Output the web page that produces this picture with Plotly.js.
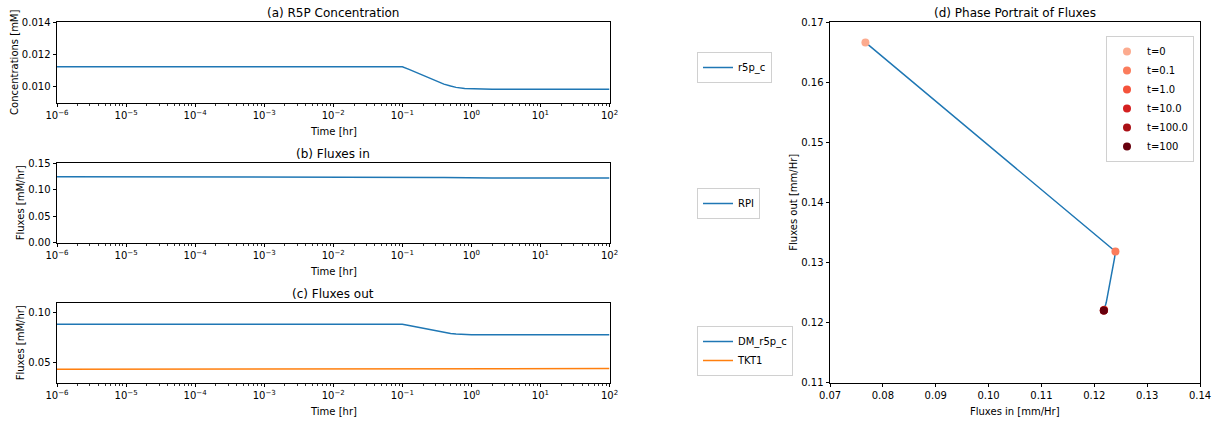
<!DOCTYPE html>
<html>
<head>
<meta charset="utf-8">
<script src="https://cdn.plot.ly/plotly-3.0.1.min.js"></script>
<style>html,body{margin:0;padding:0;background:#fff;}#chart{width:1216px;height:424px;}</style>
</head>
<body>
<div id="chart"></div>
<script>
// ---- data ----
const t = [0, 1e-6, 1e-5, 1e-4, 1e-3, 1e-2, 0.1, 0.125, 0.15, 0.2, 0.25, 0.3, 0.4, 0.5, 0.6, 0.8, 1, 2, 10, 100];
const r5p_c = [0.01122, 0.01122, 0.01122, 0.01122, 0.01122, 0.01122, 0.01122, 0.01106, 0.01091, 0.01067, 0.01049, 0.01034, 0.01014, 0.01002, 0.00994, 0.00987, 0.00985, 0.00983, 0.00983, 0.00983];
const RPI = [0.0767, 0.1240, 0.1240, 0.1240, 0.1240, 0.1240, 0.1240, 0.12383, 0.12363, 0.12330, 0.12303, 0.12281, 0.12248, 0.12226, 0.12211, 0.12194, 0.12187, 0.12180, 0.1218, 0.1218];
const DM_r5p_c = [0.1231, 0.0885, 0.0885, 0.0885, 0.0885, 0.0885, 0.0885, 0.0873, 0.0862, 0.0844, 0.0830, 0.0819, 0.0803, 0.0794, 0.0789, 0.0783, 0.0781, 0.0780, 0.0780, 0.0780];
const TKT1 = [0.0435, 0.0433, 0.0433, 0.0433, 0.0433, 0.0433, 0.0433, 0.04338, 0.04345, 0.04358, 0.04367, 0.04374, 0.04384, 0.04391, 0.04394, 0.04398, 0.04399, 0.0440, 0.0440, 0.0440];
const markTimes = [0, 0.1, 1, 10, 100, 100];
const markLabels = ['t=0', 't=0.1', 't=1.0', 't=10.0', 't=100.0', 't=100'];
const markColors = ['#fcab8f', '#fb7c5c', '#f5533b', '#d42020', '#aa1016', '#67000d'];
const decadeVals = [1e-6, 1e-5, 1e-4, 1e-3, 1e-2, 1e-1, 1e0, 1e1, 1e2];
const decadeText = ['10<sup>−6</sup>', '10<sup>−5</sup>', '10<sup>−4</sup>', '10<sup>−3</sup>', '10<sup>−2</sup>', '10<sup>−1</sup>', '10<sup>0</sup>', '10<sup>1</sup>', '10<sup>2</sup>'];

// ---- build ----
const tPos = t.slice(1);
const outSum = DM_r5p_c.map((v, i) => v + TKT1[i]);
const blue = '#1f77b4', orange = '#ff7f0e';
const minorVals = [];
decadeVals.slice(0, -1).forEach(d => { for (let m = 2; m <= 9; m++) minorVals.push(d * m); });

const traces = [
  {x: tPos, y: r5p_c.slice(1), type: 'scatter', mode: 'lines', name: 'r5p_c', line: {color: blue, width: 1.5}, xaxis: 'x', yaxis: 'y', legend: 'legend'},
  {x: tPos, y: RPI.slice(1), type: 'scatter', mode: 'lines', name: 'RPI', line: {color: blue, width: 1.5}, xaxis: 'x2', yaxis: 'y2', legend: 'legend2'},
  {x: tPos, y: DM_r5p_c.slice(1), type: 'scatter', mode: 'lines', name: 'DM_r5p_c', line: {color: blue, width: 1.5}, xaxis: 'x3', yaxis: 'y3', legend: 'legend3'},
  {x: tPos, y: TKT1.slice(1), type: 'scatter', mode: 'lines', name: 'TKT1', line: {color: orange, width: 1.5}, xaxis: 'x3', yaxis: 'y3', legend: 'legend3'},
  {x: RPI, y: outSum, type: 'scatter', mode: 'lines', showlegend: false, line: {color: blue, width: 1.5}, xaxis: 'x4', yaxis: 'y4'}
];
markTimes.forEach((mt, k) => {
  const i = t.indexOf(mt);
  traces.push({x: [RPI[i]], y: [outSum[i]], type: 'scatter', mode: 'markers', name: markLabels[k],
    marker: {color: markColors[k], size: 8}, xaxis: 'x4', yaxis: 'y4', legend: 'legend4'});
});

const font = {family: 'DejaVu Sans, sans-serif', size: 10, color: '#000'};
const baseAxis = {showline: true, mirror: true, linecolor: '#000', linewidth: 1, showgrid: false, zeroline: false,
  ticks: 'outside', ticklen: 3.5, tickcolor: '#000', tickwidth: 1, tickfont: {size: 10}, fixedrange: true};
function logX(anchor, dom) {
  return Object.assign({}, baseAxis, {type: 'log', range: [-6, 2], domain: dom, anchor: anchor,
    tickmode: 'array', tickvals: decadeVals, ticktext: decadeText,
    minor: {tickmode: 'array', tickvals: minorVals, ticks: 'outside', ticklen: 2, tickcolor: '#000', tickwidth: 0.8, showgrid: false}});
}
const xl = [57 / 1216, 609.5 / 1216];
const da = [1 - 102.5 / 424, 1 - 22 / 424];
const db = [1 - 242.5 / 424, 1 - 163 / 424];
const dc = [1 - 382.5 / 424, 1 - 303 / 424];
const xr = [830 / 1216, 1200 / 1216];
const dr = [1 - 382.5 / 424, 1 - 22 / 424];

const legendBase = {bgcolor: '#fff', bordercolor: '#d0d0d0', borderwidth: 1, font: {size: 10}, xanchor: 'left', yanchor: 'top', itemwidth: 30};

const titleAnn = [
  {text: '(a) R5P Concentration', x: (xl[0] + xl[1]) / 2, y: da[1]},
  {text: '(b) Fluxes in', x: (xl[0] + xl[1]) / 2, y: db[1]},
  {text: '(c) Fluxes out', x: (xl[0] + xl[1]) / 2, y: dc[1]},
  {text: '(d) Phase Portrait of Fluxes', x: (xr[0] + xr[1]) / 2, y: dr[1]}
].map(a => Object.assign(a, {xref: 'paper', yref: 'paper', xanchor: 'center', yanchor: 'bottom', yshift: 0.5, showarrow: false, font: {size: 12}}));
const xTitleAnn = [
  {text: 'Time [hr]', x: (xl[0] + xl[1]) / 2, y: da[0]},
  {text: 'Time [hr]', x: (xl[0] + xl[1]) / 2, y: db[0]},
  {text: 'Time [hr]', x: (xl[0] + xl[1]) / 2, y: dc[0]},
  {text: 'Fluxes in [mm/Hr]', x: (xr[0] + xr[1]) / 2, y: dr[0]}
].map(a => Object.assign(a, {xref: 'paper', yref: 'paper', xanchor: 'center', yanchor: 'middle', yshift: -29, showarrow: false, font: {size: 10}}));

const layout = {
  width: 1216, height: 424, margin: {l: 0, r: 0, t: 0, b: 0}, paper_bgcolor: '#fff', plot_bgcolor: '#fff',
  font: font,
  xaxis: logX('y', xl),
  yaxis: Object.assign({}, baseAxis, {domain: da, anchor: 'x', range: [0.009, 0.014], tickvals: [0.010, 0.012, 0.014], tickformat: '.3f', title: {text: 'Concentrations [mM]', font: {size: 10}}}),
  xaxis2: logX('y2', xl),
  yaxis2: Object.assign({}, baseAxis, {domain: db, anchor: 'x2', range: [0, 0.15], tickvals: [0, 0.05, 0.10, 0.15], tickformat: '.2f', title: {text: 'Fluxes [mM/hr]', font: {size: 10}}}),
  xaxis3: logX('y3', xl),
  yaxis3: Object.assign({}, baseAxis, {domain: dc, anchor: 'x3', range: [0.03, 0.11], tickvals: [0.05, 0.10], tickformat: '.2f', title: {text: 'Fluxes [mM/hr]', font: {size: 10}}}),
  xaxis4: Object.assign({}, baseAxis, {domain: xr, anchor: 'y4', range: [0.07, 0.14], dtick: 0.01, tick0: 0.07, tickformat: '.2f'}),
  yaxis4: Object.assign({}, baseAxis, {domain: dr, anchor: 'x4', range: [0.11, 0.17], dtick: 0.01, tick0: 0.11, tickformat: '.2f', title: {text: 'Fluxes out [mm/Hr]', font: {size: 10}}}),
  legend: Object.assign({}, legendBase, {x: 697 / 1216, y: 1 - 52 / 424}),
  legend2: Object.assign({}, legendBase, {x: 697 / 1216, y: 1 - 188 / 424}),
  legend3: Object.assign({}, legendBase, {x: 697 / 1216, y: 1 - 326 / 424}),
  legend4: Object.assign({}, legendBase, {x: 1194 / 1216, xanchor: 'right', y: 1 - 36 / 424}),
  annotations: titleAnn.concat(xTitleAnn)
};

Plotly.newPlot('chart', traces, layout, {displayModeBar: false, staticPlot: true});
</script>
</body>
</html>
